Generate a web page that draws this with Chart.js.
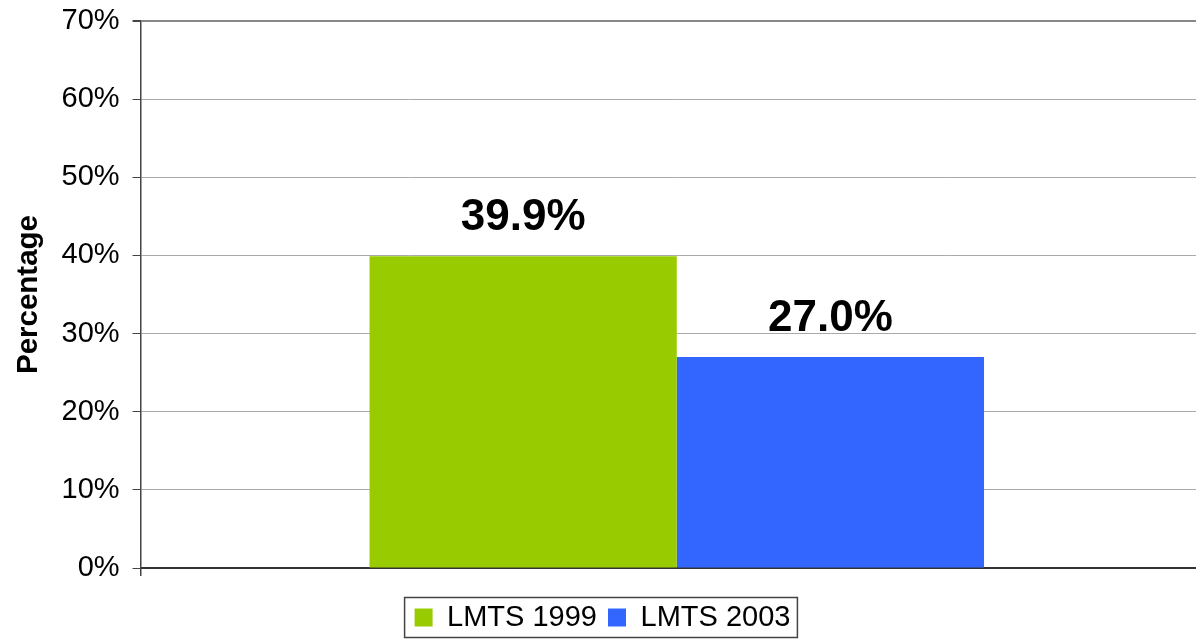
<!DOCTYPE html>
<html>
<head>
<meta charset="utf-8">
<script src="https://cdn.jsdelivr.net/npm/chart.js@4/dist/chart.umd.min.js"></script>
<style>
    html, body { margin: 0; padding: 0; background: #fff; overflow: hidden; }
    /* plot area runs past the right edge in the reference, so the canvas is wider than the window */
    #wrap { width: 1196px; height: 640px; overflow: hidden; }
    #box { width: 1213px; height: 640px; }
</style>
</head>
<body>
<div id="wrap"><div id="box"><canvas id="lmtsChart"></canvas></div></div>
<script>
// Chart data
const categories = [''];
const seriesNames = ['LMTS 1999', 'LMTS 2003'];
const seriesValues = [[39.9], [27.0]];
const seriesColors = ['#99CC00', '#3366FF'];
const yTicks = [0, 10, 20, 30, 40, 50, 60, 70];

const FONT = '"Liberation Sans", Arial, sans-serif';

// value labels above the bars
const barLabels = {
    id: 'barLabels',
    afterDatasetsDraw(chart) {
        const ctx = chart.ctx;
        ctx.save();
        ctx.font = 'bold 44px ' + FONT;
        ctx.fillStyle = '#000';
        ctx.textAlign = 'center';
        ctx.textBaseline = 'alphabetic';
        chart.data.datasets.forEach((ds, i) => {
            chart.getDatasetMeta(i).data.forEach((bar, j) => {
                ctx.fillText(ds.data[j].toFixed(1) + '%', bar.x, bar.y - 26);
            });
        });
        ctx.restore();
    }
};

// legend sits centred on the visible window, not the wider canvas; plus a border round it
const legendBorder = {
    id: 'legendBorder',
    afterLayout(chart) {
        chart.legend.left -= 9;
        chart.legend.right -= 9;
        chart.legend.top += 2;
        chart.legend.bottom += 2;
    },
    afterDraw(chart) {
        const boxes = chart.legend.legendHitBoxes;
        if (!boxes || !boxes.length) return;
        const first = boxes[0];
        const last = boxes[boxes.length - 1];
        const cy = first.top + first.height / 2;
        const ctx = chart.ctx;
        ctx.save();
        ctx.strokeStyle = '#444';
        ctx.lineWidth = 1.5;
        ctx.strokeRect(first.left - 10, cy - 20, last.left + last.width - first.left + 17, 40);
        ctx.restore();
    }
};

function initChart() {
    const ctx = document.getElementById('lmtsChart').getContext('2d');

    new Chart(ctx, {
        type: 'bar',
        data: {
            labels: categories,
            datasets: seriesNames.map((name, i) => ({
                label: name,
                data: seriesValues[i],
                backgroundColor: seriesColors[i],
                borderWidth: 0,
                categoryPercentage: 0.573,
                barPercentage: 1.0
            }))
        },
        options: {
            responsive: true,
            maintainAspectRatio: false,
            animation: false,
            layout: {
                padding: { left: 10, top: 0, right: 0, bottom: 0 }
            },
            scales: {
                x: {
                    afterFit(scale) {
                        scale.height += 14;
                    },
                    grid: {
                        drawOnChartArea: false,
                        drawTicks: true,
                        tickLength: 8,
                        color: '#444',
                        lineWidth: 1.5
                    },
                    border: { color: '#333', width: 2 },
                    ticks: { display: false }
                },
                y: {
                    min: 0,
                    max: 70,
                    afterBuildTicks(scale) {
                        scale.ticks = yTicks.map(v => ({ value: v }));
                    },
                    afterFit(scale) {
                        scale.paddingTop = 21;
                    },
                    grid: {
                        color: ctx => ctx.tick && ctx.tick.value === 70 ? '#888' : '#aaa',
                        lineWidth: ctx => ctx.tick && ctx.tick.value === 70 ? 2 : 1,
                        tickLength: 8,
                        tickColor: '#444'
                    },
                    border: { color: '#444', width: 1.5 },
                    ticks: {
                        color: '#000',
                        padding: 13,
                        font: { family: FONT, size: 29, lineHeight: 1 },
                        callback: v => v + '%'
                    },
                    title: {
                        display: true,
                        text: 'Percentage',
                        color: '#000',
                        font: { family: FONT, size: 29.5, weight: 'bold', lineHeight: 1 },
                        padding: { top: 4, bottom: 5 }
                    }
                }
            },
            plugins: {
                legend: {
                    position: 'bottom',
                    labels: {
                        color: '#000',
                        boxWidth: 18,
                        boxHeight: 18,
                        padding: 11,
                        font: { family: FONT, size: 29 }
                    }
                },
                tooltip: { enabled: false }
            }
        },
        plugins: [barLabels, legendBorder]
    });
}

document.addEventListener('DOMContentLoaded', function() {
    if (document.getElementById('lmtsChart')) {
        initChart();
    }
});
</script>
</body>
</html>
